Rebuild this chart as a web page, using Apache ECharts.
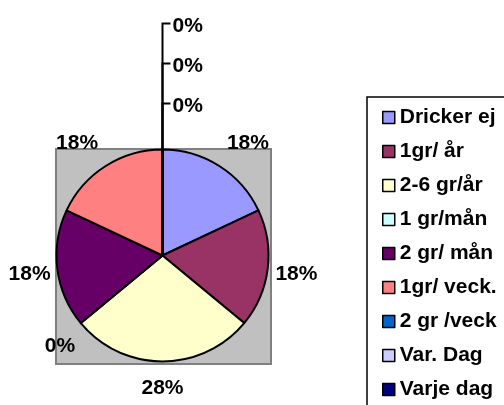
<!DOCTYPE html>
<html>
<head>
<meta charset="utf-8">
<script src="https://cdn.jsdelivr.net/npm/echarts@6/dist/echarts.min.js"></script>
<style>
html,body{margin:0;padding:0;background:#fff;}
#chartPie{width:504px;height:405px;}
</style>
</head>
<body>
<div id="chartPie"></div>
<script>
// kategorier och andelar (%)
var categories = ['Dricker ej', '1gr/ år', '2-6 gr/år', '1 gr/mån', '2 gr/ mån', '1gr/ veck.', '2 gr /veck', 'Var. Dag', 'Varje dag'];
var percents = [18, 18, 28, 0, 18, 18, 0, 0, 0];
var colors = ['#9999FF', '#993366', '#FFFFCC', '#CCFFFF', '#660066', '#FF8080', '#0066CC', '#CCCCFF', '#000080'];
// etiketter som ligger ovanför pajen med hjälplinje
var topLabels = [6, 7, 8];
// små justeringar av etiketterna (Excel-placering)
var labelNudge = [[12, 3], [-2, 2], [0, -4], [3, 3], [3, 2], [-12, 3], [0, 0], [0, 0], [0, 0]];

var center = [162.5, 255.5];
var font = {fontFamily: 'Liberation Sans', fontWeight: 'bold', color: '#000'};

var pieData = categories.map(function (name, i) {
	return {
		name: name,
		value: percents[i],
		itemStyle: {color: colors[i]},
		label: {show: topLabels.indexOf(i) >= 0}
	};
});
var labelData = categories.map(function (name, i) {
	return {
		name: name,
		value: percents[i],
		label: {show: topLabels.indexOf(i) < 0}
	};
});

var chart = echarts.init(document.getElementById('chartPie'));
chart.setOption({
	animation: false,
	backgroundColor: '#fff',
	graphic: [{
		type: 'rect',
		left: 55, top: 148, z: 0,
		shape: {width: 215, height: 215},
		style: {fill: '#C0C0C0', stroke: '#808080', lineWidth: 2}
	}],
	legend: {
		orient: 'vertical',
		left: 367, top: 97, height: 340,
		padding: [10, 30, 30, 15],
		itemWidth: 12, itemHeight: 12, itemGap: 13,
		icon: 'rect',
		backgroundColor: '#fff',
		borderColor: '#000', borderWidth: 1.5, borderRadius: 0,
		itemStyle: {borderColor: '#000', borderWidth: 1.5},
		textStyle: {fontFamily: 'Liberation Sans', fontWeight: 'bold', fontSize: 21, color: '#000'},
		data: categories
	},
	series: [{
		type: 'pie',
		center: center,
		radius: 106,
		startAngle: 90,
		clockwise: true,
		avoidLabelOverlap: false,
		silent: true,
		itemStyle: {borderColor: '#000', borderWidth: 2},
		emphasis: {disabled: true},
		label: Object.assign({position: 'outside', formatter: '{c}%', fontSize: 21}, font),
		labelLine: {show: true, length: 10, length2: 8, lineStyle: {color: '#000', width: 2}},
		labelLayout: function (p) {
			var k = topLabels.indexOf(p.dataIndex);
			if (k < 0 || !p.labelLinePoints) return {};
			var x0 = p.labelLinePoints[0][0];
			var y0 = p.labelLinePoints[0][1];
			var y = y0 - 126 + 40 * k;
			return {
				x: x0 + 10, y: y + 3, align: 'left', verticalAlign: 'middle',
				labelLinePoints: [[x0, y0], [x0, y], [x0 + 8, y]]
			};
		},
		data: pieData
	}, {
		type: 'pie',
		center: center,
		radius: [116, 152],
		startAngle: 90,
		clockwise: true,
		silent: true,
		itemStyle: {color: 'rgba(0,0,0,0)', borderWidth: 0},
		emphasis: {disabled: true},
		label: Object.assign({position: 'inside', formatter: '{c}%', fontSize: 21}, font),
		labelLine: {show: false},
		labelLayout: function (p) {
			var n = labelNudge[p.dataIndex];
			return {dx: n[0], dy: n[1]};
		},
		data: labelData
	}]
});
</script>
</body>
</html>
